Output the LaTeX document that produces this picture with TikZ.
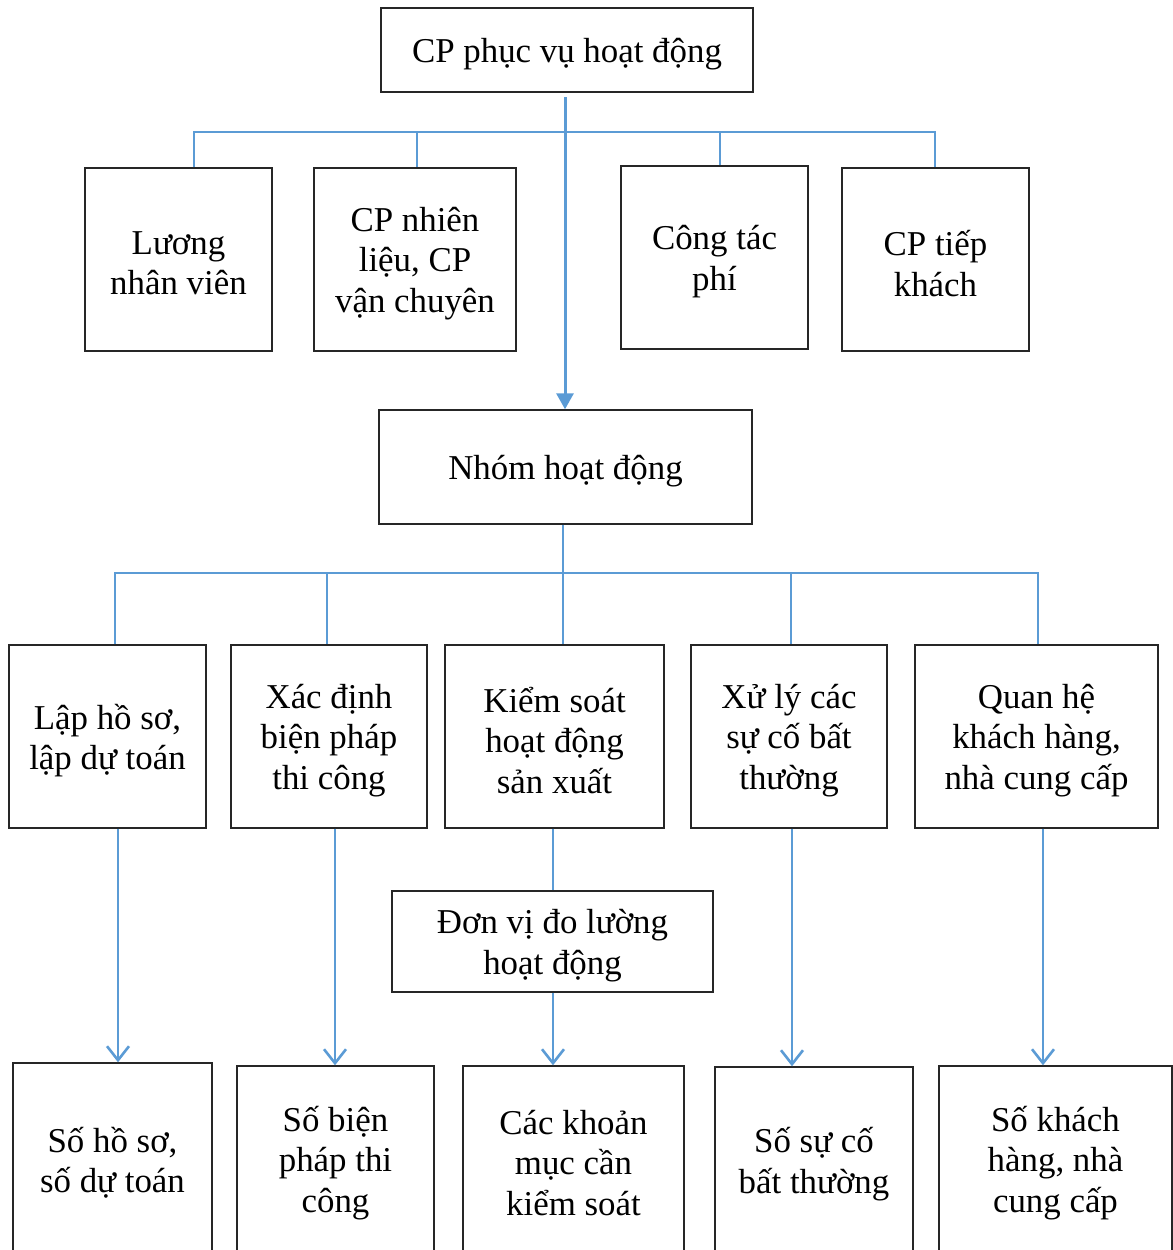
\documentclass[tikz,border=0pt]{standalone}
\usepackage{fontspec}
\setmainfont{Liberation Serif}
\usetikzlibrary{arrows.meta}
\definecolor{linkblue}{HTML}{5B9BD5}
\definecolor{boxline}{HTML}{262626}
\begin{document}
\begin{tikzpicture}[x=1bp,y=-1bp,
  boxtext/.style={align=center, inner sep=0pt, yshift=-4bp,
    font=\fontsize{35}{40.5}\selectfont},
  box/.style={draw=boxline, line width=1.4bp, rectangle, inner sep=0pt,
    label={[boxtext]center:{#1}}},
  branch/.style={draw=linkblue, line width=1.4bp},
  mainarrow/.style={draw=linkblue, line width=3bp,
    -{Triangle[width=17bp,length=16bp]}},
  openarrow/.style={draw=linkblue, line width=2.6bp,
    -{Straight Barb[width=22bp,length=14bp,line width=2.6bp]}}]
\useasboundingbox (0,0) rectangle (1173,1250);
\clip (0,0) rectangle (1173,1250);

% top level
\node[box={CP phục vụ hoạt động}, minimum width=372bp, minimum height=84bp] (top) at (567,50) {};

% cost items
\node[box={Lương\\nhân viên}, minimum width=187bp, minimum height=183bp] (lnv) at (178.5,259.5) {};
\node[box={CP nhiên\\liệu, CP\\vận chuyên}, minimum width=202bp, minimum height=183bp] (cpnl) at (415,259.5) {};
\node[box={Công tác\\phí}, minimum width=187bp, minimum height=183bp] (ctp) at (714.5,257.5) {};
\node[box={CP tiếp\\khách}, minimum width=187bp, minimum height=183bp] (cptk) at (935.5,259.5) {};

% activity group
\node[box={Nhóm hoạt động}, minimum width=373bp, minimum height=114bp] (nhom) at (565.5,467) {};

% activities
\node[box={Lập hồ sơ,\\lập dự toán}, minimum width=197bp, minimum height=183bp] (lhs) at (107.5,736.5) {};
\node[box={Xác định\\biện pháp\\thi công}, minimum width=196bp, minimum height=183bp] (xd) at (329,736.5) {};
\node[box={Kiểm soát\\hoạt động\\sản xuất}, minimum width=219bp, minimum height=183bp] (ks) at (554.5,736.5) {};
\node[box={Xử lý các\\sự cố bất\\thường}, minimum width=196bp, minimum height=183bp] (xl) at (789,736.5) {};
\node[box={Quan hệ\\khách hàng,\\nhà cung cấp}, minimum width=243bp, minimum height=183bp] (qh) at (1036.5,736.5) {};

% measuring unit
\node[box={Đơn vị đo lường\\hoạt động}, minimum width=321bp, minimum height=101bp] (dv) at (552.5,941.5) {};

% activity drivers (their lower edges run past the page)
\node[box={Số hồ sơ,\\số dự toán}, minimum width=199bp, minimum height=192bp] (b1) at (112.5,1159) {};
\node[box={Số biện\\pháp thi\\công}, minimum width=197bp, minimum height=186bp] (b2) at (335.5,1159) {};
\node[box={Các khoản\\mục cần\\kiểm soát}, minimum width=221bp, minimum height=186bp] (b3) at (573.5,1159) {};
\node[box={Số sự cố\\bất thường}, minimum width=198bp, minimum height=186bp] (b4) at (814,1160) {};
\node[box={Số khách\\hàng, nhà\\cung cấp}, minimum width=233bp, minimum height=186bp] (b5) at (1055.5,1159) {};

% upper bus
\coordinate (u1) at (194,132);
\coordinate (u2) at (417,132);
\coordinate (u3) at (720,132);
\coordinate (u4) at (935,132);
\draw[branch] (u1 |- lnv.north) -- (u1) -- (u4) -- (u4 |- cptk.north);
\draw[branch] (u2) -- (u2 |- cpnl.north);
\draw[branch] (u3) -- (u3 |- ctp.north);

% main arrow
\coordinate (mstart) at (565,97);
\draw[mainarrow] (mstart) -- (mstart |- nhom.north);

% lower bus
\coordinate (l1) at (115,573);
\coordinate (l2) at (327,573);
\coordinate (l3) at (563,573);
\coordinate (l4) at (791,573);
\coordinate (l5) at (1038,573);
\draw[branch] (l1 |- lhs.north) -- (l1) -- (l5) -- (l5 |- qh.north);
\draw[branch] (l2) -- (l2 |- xd.north);
\draw[branch] (l3 |- nhom.south) -- (l3 |- ks.north);
\draw[branch] (l4) -- (l4 |- xl.north);

% activity to driver arrows
\coordinate (d1) at (118,0);
\coordinate (d2) at (335,0);
\coordinate (d3) at (553,0);
\coordinate (d4) at (792,0);
\coordinate (d5) at (1043,0);
\draw[openarrow] (d1 |- lhs.south) -- (d1 |- b1.north);
\draw[openarrow] (d2 |- xd.south) -- (d2 |- b2.north);
\draw[branch] (d3 |- ks.south) -- (d3 |- dv.north);
\draw[openarrow] (d3 |- dv.south) -- (d3 |- b3.north);
\draw[openarrow] (d4 |- xl.south) -- (d4 |- b4.north);
\draw[openarrow] (d5 |- qh.south) -- (d5 |- b5.north);
\end{tikzpicture}
\end{document}
